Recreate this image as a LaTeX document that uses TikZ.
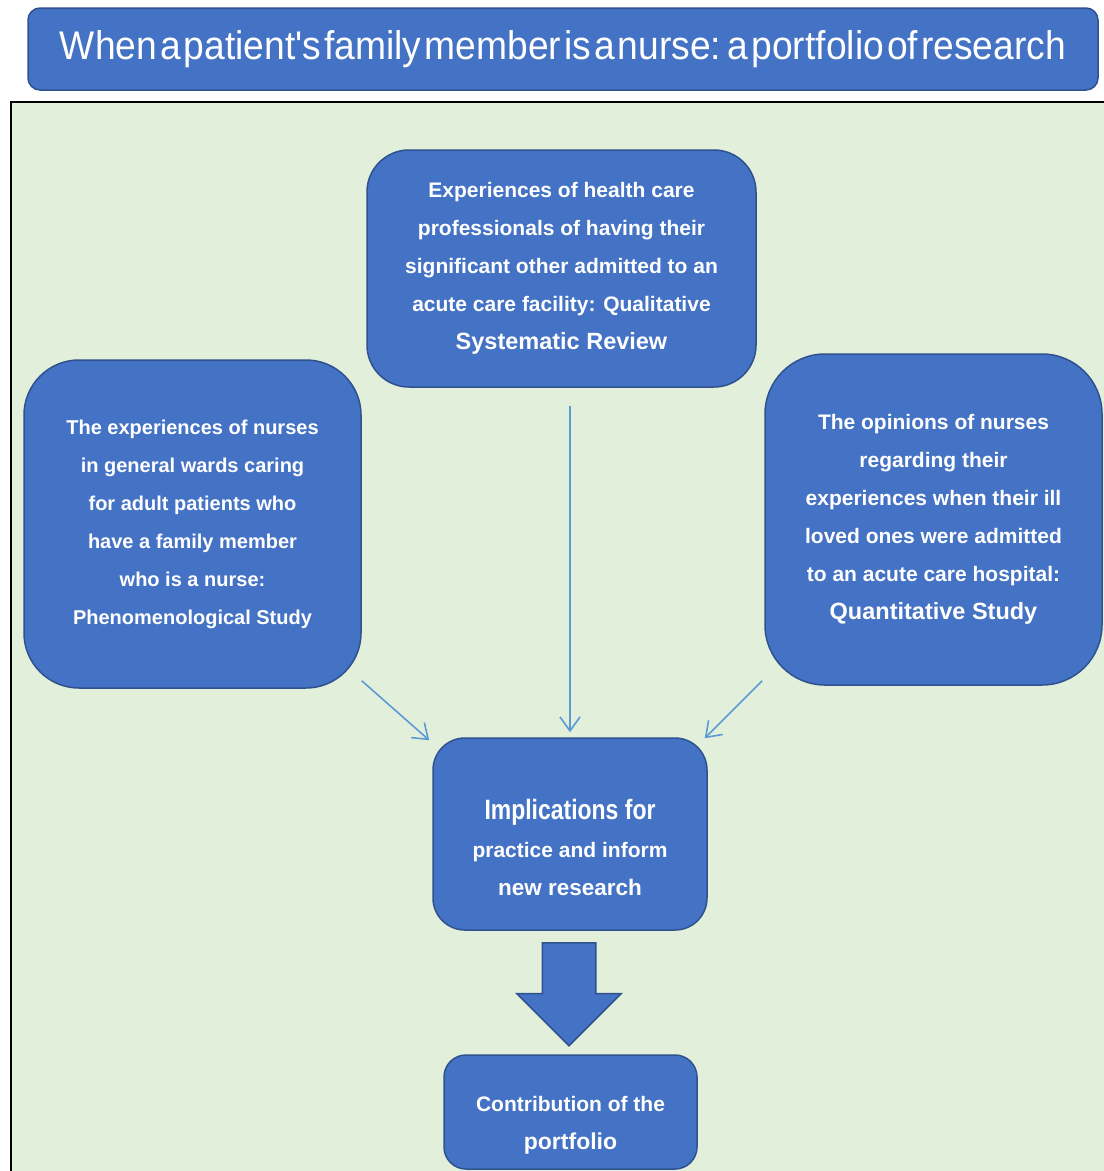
\documentclass[tikz,border=0pt]{standalone}
\usepackage{fontspec}
\setmainfont{Liberation Sans}
\newfontfamily\narrowfont[FakeStretch=0.82]{Liberation Sans}
\newfontfamily\titlefont[FakeStretch=0.93,WordSpace=0.3]{Liberation Sans}
\usetikzlibrary{arrows.meta,shapes.arrows}
\definecolor{boxblue}{HTML}{4472C4}
\definecolor{boxedge}{HTML}{2F528F}
\definecolor{paper}{HTML}{E2EFDA}
\definecolor{linkblue}{HTML}{5B9BD5}
\begin{document}
\begin{tikzpicture}[x=1pt, y=-1pt,
  box/.style={rectangle, rounded corners=#1, draw=boxedge, line width=1.5pt, fill=boxblue,
    text=white, align=center, inner sep=0pt, font=\bfseries\fontsize{21}{38}\selectfont},
  box/.default=20pt,
  link/.style={draw=linkblue, line width=1.6pt, -{Straight Barb[length=14pt, width=20pt]}}]
  \useasboundingbox (0,0) rectangle (1104,1171);
  \draw[fill=paper, line width=1.2pt] (11,102) rectangle (1160,1230);

  \node[box=12pt, font=\titlefont\fontsize{40}{42}\selectfont, minimum width=1070pt, minimum height=82pt]
    (title) at (563,49) {When a patient's family member is a nurse: a portfolio of research};

  \node[box=42pt, minimum width=389pt, minimum height=237pt] (review) at (561.5,268.5)
    {Experiences of health care\\ professionals of having their\\ significant other admitted to an\\
     acute care facility: Qualitative\\ {\fontsize{23.5}{38}\selectfont Systematic Review}};
  \node[box=55pt, minimum width=337pt, minimum height=328pt, font=\bfseries\fontsize{20}{38}\selectfont]
    (pheno) at (192.5,524)
    {The experiences of nurses\\ in general wards caring\\ for adult patients who\\ have a family member\\
     who is a nurse:\\ Phenomenological Study};
  \node[box=60pt, minimum width=337pt, minimum height=331pt] (quant) at (933.5,519.5)
    {The opinions of nurses\\ regarding their\\ experiences when their ill\\ loved ones were admitted\\
     to an acute care hospital:\\ {\fontsize{23.5}{38}\selectfont Quantitative Study}};
  \node[box=32pt, minimum width=274pt, minimum height=192pt] (impl) at (570,834)
    {\rule{0pt}{47pt}{\narrowfont\bfseries\fontsize{28}{38}\selectfont Implications for}\\ practice and inform\\
     {\fontsize{22.5}{38}\selectfont new research}};
  \node[box=22pt, minimum width=253pt, minimum height=114pt] (contrib) at (570.5,1112)
    {\rule{0pt}{41pt}Contribution of the\\ {\fontsize{23}{38}\selectfont portfolio}};

  \node[single arrow, draw=boxedge, fill=boxblue, line width=1.5pt, rotate=-90, minimum height=103pt,
    single arrow head extend=25.5pt, inner xsep=0pt, inner ysep=26pt, anchor=tail] (push) at (569,942) {};

  \draw[link] ([yshift=8pt]pheno.south east) -- ([xshift=-3pt, yshift=-3pt]impl.north west);
  \draw[link, shorten <=18pt, shorten >=5pt] (review.south -| impl.north) -- (impl.north);
  \draw[link] ([xshift=-2pt, yshift=5pt]quant.south west) -- ([xshift=-3pt, yshift=-1pt]impl.north east);
\end{tikzpicture}
\end{document}
